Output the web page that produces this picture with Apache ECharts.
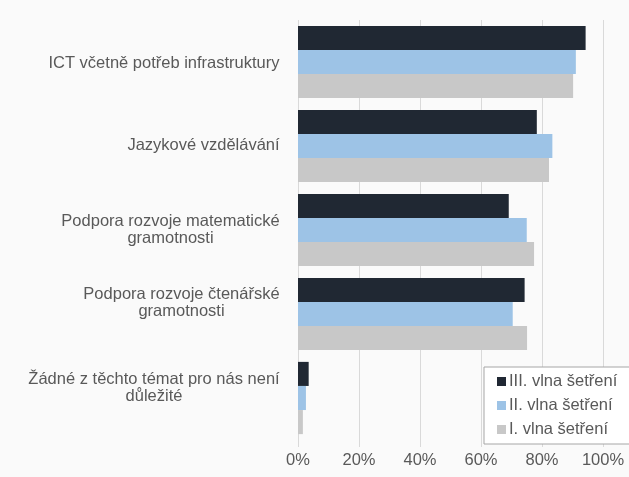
<!DOCTYPE html>
<html>
<head>
<meta charset="utf-8">
<script src="https://cdn.jsdelivr.net/npm/echarts@6/dist/echarts.min.js"></script>
<style>
  html, body { margin: 0; padding: 0; background: #fafafa; }
  #chart { width: 629px; height: 477px; }
</style>
</head>
<body>
<div id="chart"></div>
<script>
const categories = [
  'ICT včetně potřeb infrastruktury',
  'Jazykové vzdělávání',
  'Podpora rozvoje matematické\ngramotnosti',
  'Podpora rozvoje čtenářské\ngramotnosti',
  'Žádné z těchto témat pro nás není\ndůležité'
]
const seriesNames = ['III. vlna šetření', 'II. vlna šetření', 'I. vlna šetření']
const wave3 = [94.3, 78.3, 69.1, 74.3, 3.5]
const wave2 = [91.1, 83.4, 75.0, 70.4, 2.6]
const wave1 = [90.2, 82.3, 77.4, 75.1, 1.6]
const colors = ['#202833', '#9dc3e6', '#c8c8c8']

const FONT = 'Liberation Sans, Arial, sans-serif'
const FS = 16.5

const chart = echarts.init(document.getElementById('chart'))

// centre the lines of each label inside a box as wide as its longest line
const ctx = document.createElement('canvas').getContext('2d')
ctx.font = FS + 'px ' + FONT
const rich = {}
categories.forEach((c, i) => {
  const w = Math.max(...c.split('\n').map(l => ctx.measureText(l).width))
  rich['c' + i] = { width: Math.ceil(w), align: 'center', color: '#595959', fontSize: FS, lineHeight: 17, fontFamily: FONT }
})
function labelFormatter(value, idx) {
  return value.split('\n').map(l => '{c' + idx + '|' + l + '}').join('\n')
}
// the last two labels sit a bit above their bars in the original
const labelLift = [-3, 1, 1, 22, 20]
const yData = categories.map((c, i) => ({
  value: c,
  textStyle: { padding: labelLift[i] > 0 ? [0, 0, labelLift[i], 0] : [-labelLift[i], 0, 0, 0] }
}))

const option = {
  backgroundColor: '#fafafa',
  textStyle: { fontFamily: FONT },
  legend: {
    data: seriesNames,
    orient: 'vertical',
    left: 484,
    top: 367,
    padding: [5, 40, 5, 13],
    itemWidth: 9,
    itemHeight: 9,
    itemGap: 5,
    icon: 'rect',
    backgroundColor: '#ffffff',
    borderColor: '#a6a6a6',
    borderWidth: 1,
    borderRadius: 0,
    textStyle: { color: '#595959', fontSize: FS, lineHeight: 19, padding: [0, 0, 0, -2] }
  },
  grid: {
    left: 298,
    right: 26,
    top: 20,
    bottom: 37
  },
  xAxis: {
    type: 'value',
    min: 0,
    max: 100,
    interval: 20,
    axisLine: { show: false },
    axisTick: { show: true, length: 7, lineStyle: { color: '#d9d9d9' } },
    splitLine: { lineStyle: { color: '#d9d9d9' } },
    axisLabel: {
      formatter: '{value}%',
      color: '#595959',
      fontSize: FS,
      margin: 12
    }
  },
  yAxis: {
    type: 'category',
    data: yData,
    inverse: true,
    axisLine: { show: false },
    axisTick: { show: false },
    axisLabel: {
      formatter: labelFormatter,
      margin: 18,
      color: '#595959',
      fontSize: FS,
      lineHeight: 17,
      rich: rich
    }
  },
  series: [
    { name: seriesNames[0], type: 'bar', data: wave3, itemStyle: { color: colors[0] }, barGap: '0%', barCategoryGap: '14%' },
    { name: seriesNames[1], type: 'bar', data: wave2, itemStyle: { color: colors[1] } },
    { name: seriesNames[2], type: 'bar', data: wave1, itemStyle: { color: colors[2] } }
  ]
}

chart.setOption(option)
</script>
</body>
</html>
